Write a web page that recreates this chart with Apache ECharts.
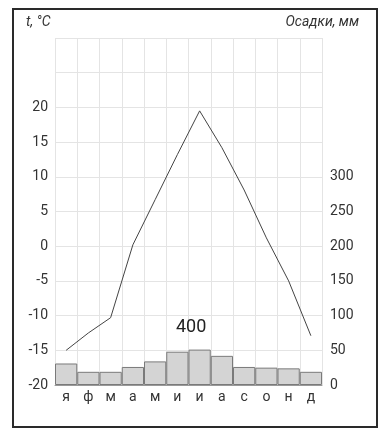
<!DOCTYPE html>
<html><head><meta charset="utf-8">
<script src="https://cdn.jsdelivr.net/npm/echarts@6/dist/echarts.min.js"></script>
<style>html,body{margin:0;padding:0;background:#fff}#c{width:383px;height:434px}</style>
</head><body><div id="c"></div>
<script>
const months = ['я','ф','м','а','м','и','и','а','с','о','н','д'];
const temperature = [-15, -12.5, -10.3, 0.2, 6.7, 13.2, 19.5, 14.2, 8.1, 1.2, -5, -12.9];
const precipitation = [31, 19, 19, 26, 34, 48, 51, 42, 26, 25, 24, 19];
const tempTicks = [-20, -15, -10, -5, 0, 5, 10, 15, 20];
const precTicks = [0, 50, 100, 150, 200, 250, 300];
const totalLabel = '400';
const leftTitle = 't, °C';
const rightTitle = 'Осадки, мм';

const chart = echarts.init(document.getElementById('c'));
const font = 'Roboto, "Noto Sans", sans-serif';
chart.setOption({
  animation: false,
  backgroundColor: '#fff',
  grid: {left: 55, right: 61, top: 38, bottom: 49},
  graphic: [
    {type: 'rect', shape: {x: 13, y: 9, width: 364, height: 418}, style: {fill: 'none', stroke: '#2a2a2a', lineWidth: 2}, z: 100},
    {type: 'text', left: 26, top: 15, style: {text: leftTitle, font: 'italic 14px ' + font, fill: '#333'}},
    {type: 'text', right: 24, top: 15, style: {text: rightTitle, font: 'italic 14px ' + font, fill: '#333'}},
    {type: 'text', left: 176, top: 318, style: {text: totalLabel, font: '18px ' + font, fill: '#222'}, z: 50}
  ],
  xAxis: {
    type: 'category', data: months, boundaryGap: true,
    axisLine: {show: true, onZero: false, lineStyle: {color: '#999'}},
    axisTick: {show: false},
    axisLabel: {color: '#333', fontSize: 14, fontFamily: font, margin: 5},
    splitLine: {show: true, lineStyle: {color: '#e4e4e4', width: 1}}
  },
  yAxis: [
    {type: 'value', min: -20, max: 30, interval: 5, position: 'left',
     axisLine: {show: false}, axisTick: {show: false},
     axisLabel: {color: '#333', fontSize: 14, fontFamily: font, margin: 7,
       formatter: v => tempTicks.includes(v) ? String(v) : ''},
     splitLine: {show: true, lineStyle: {color: '#e4e4e4'}}},
    {type: 'value', min: 0, max: 500, interval: 50, position: 'right',
     axisLine: {show: false}, axisTick: {show: false},
     axisLabel: {color: '#333', fontSize: 14, fontFamily: font, margin: 8,
       formatter: v => precTicks.includes(v) ? String(v) : ''},
     splitLine: {show: false}}
  ],
  series: [
    {type: 'bar', yAxisIndex: 1, data: precipitation, barCategoryGap: '0%',
     itemStyle: {color: '#d4d4d4', borderColor: '#7a7a7a', borderWidth: 1}},
    {type: 'line', yAxisIndex: 0, data: temperature, symbol: 'none',
     lineStyle: {color: '#444', width: 1}, z: 5}
  ]
});
</script></body></html>
